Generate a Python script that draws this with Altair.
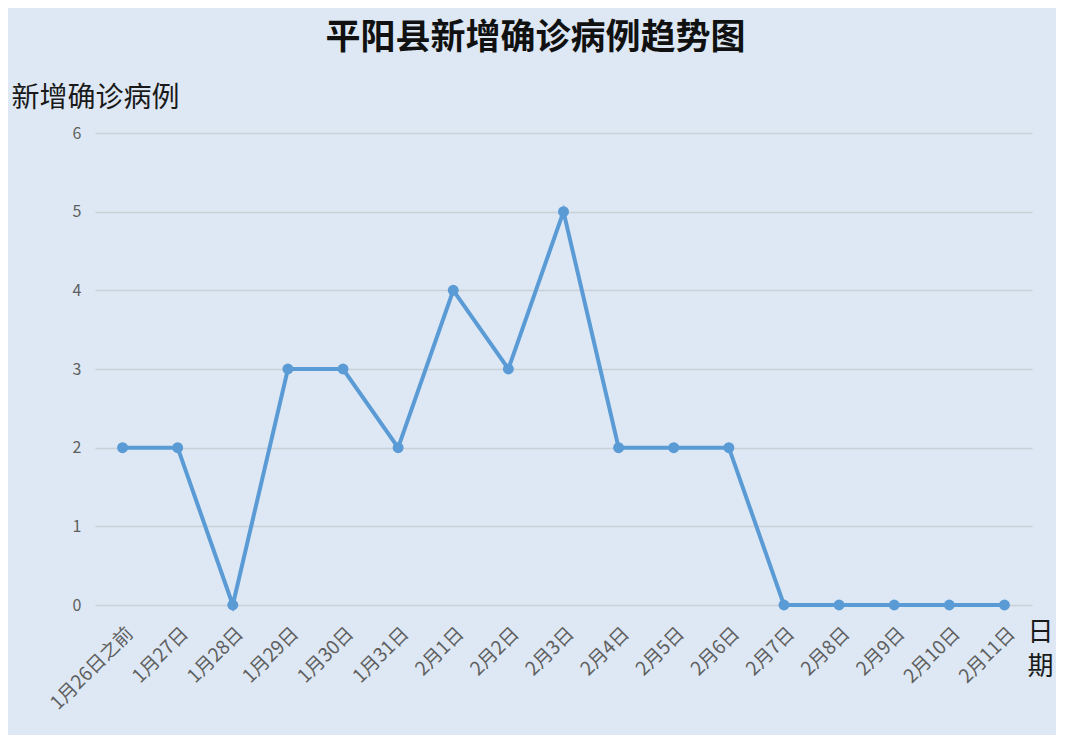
import altair as alt
import pandas as pd

dates = ["1月26日之前", "1月27日", "1月28日", "1月29日", "1月30日", "1月31日",
         "2月1日", "2月2日", "2月3日", "2月4日", "2月5日", "2月6日",
         "2月7日", "2月8日", "2月9日", "2月10日", "2月11日"]
cases = [2, 2, 0, 3, 3, 2, 4, 3, 5, 2, 2, 2, 0, 0, 0, 0, 0]

df = pd.DataFrame({"date": dates, "cases": cases})

FONT = "Noto Sans CJK SC"

x = alt.X("date:N", sort=dates, scale=alt.Scale(type="point", padding=0.5),
          axis=alt.Axis(title=["日", "期"], titleAngle=0, titleX=945, titleY=14,
                        titleAlign="center", titleBaseline="top", titleFontSize=26,
                        titleFontWeight="normal", titleColor="#1a1a1a", titleFont=FONT,
                        titleLineHeight=34,
                        labelAngle=-45, labelAlign="right", labelBaseline="middle",
                        labelFontSize=19, labelColor="#5f5f5f", labelFont=FONT,
                        labelPadding=25, labelOffset=7, ticks=False, domain=False, grid=False))
y = alt.Y("cases:Q", scale=alt.Scale(domain=[0, 6]),
          axis=alt.Axis(title="新增确诊病例", titleAngle=0, titleX=-84, titleY=-35,
                        titleAlign="left", titleBaseline="middle", titleFontSize=28,
                        titleFontWeight="normal", titleColor="#1a1a1a", titleFont=FONT,
                        values=[0, 1, 2, 3, 4, 5, 6], format="d",
                        labelFontSize=16, labelColor="#5f5f5f", labelFont=FONT,
                        labelPadding=14, ticks=False, domain=False,
                        grid=True, gridColor="#c9d0d8", gridWidth=1.5))

line = alt.Chart(df).mark_line(color="#5b9bd5", strokeWidth=4).encode(x=x, y=y)
pts = alt.Chart(df).mark_circle(color="#5b9bd5", size=120, opacity=1).encode(x=x, y=y)

chart = (line + pts).properties(
    width=937, height=472,
    autosize=alt.AutoSizeParams(type="none"),
    padding={"left": 87, "top": 125, "right": 24, "bottom": 130},
    background="#dde8f4",
    title=alt.TitleParams("平阳县新增确诊病例趋势图", font=FONT, fontSize=35,
                          fontWeight="bold", color="#111111", anchor="middle",
                          dx=-28, offset=28),
).configure_view(stroke=None)

chart.save("out.html", embed_options={"renderer": "svg", "actions": False})
